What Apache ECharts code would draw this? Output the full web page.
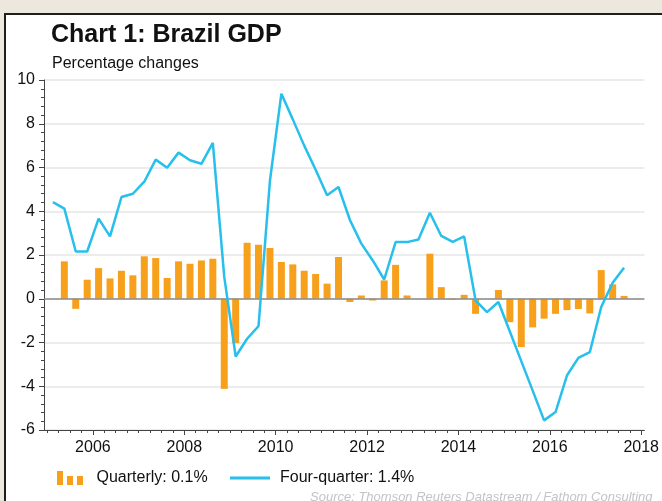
<!DOCTYPE html>
<html>
<head>
<meta charset="utf-8">
<script src="https://cdn.jsdelivr.net/npm/echarts@6/dist/echarts.min.js"></script>
<style>
  html, body { margin: 0; padding: 0; background: #ece8dd; }
  #chart { width: 662px; height: 501px; }
</style>
</head>
<body>
<div id="chart"></div>
<script>
  // quarterly data, 2005Q1 .. 2017Q3
  var startYear = 2005;
  var quarterly = [
    null, 1.71, -0.46, 0.87, 1.40, 0.93, 1.28, 1.07,
    1.94, 1.86, 0.95, 1.71, 1.60, 1.75, 1.83, -4.12,
    -2.03, 2.56, 2.47, 2.32, 1.68, 1.57, 1.28, 1.13,
    0.69, 1.91, -0.15, 0.15, -0.08, 0.84, 1.55, 0.15,
    0.0, 2.06, 0.53, -0.05, 0.18, -0.69, 0.0, 0.40,
    -1.07, -2.21, -1.31, -0.91, -0.69, -0.52, -0.47, -0.67,
    1.31, 0.66, 0.13
  ];
  var fourQuarter = [
    4.42, 4.12, 2.16, 2.16, 3.66, 2.85, 4.65, 4.80,
    5.35, 6.36, 5.99, 6.68, 6.33, 6.17, 7.13, 1.00,
    -2.64, -1.83, -1.25, 5.40, 9.37, 8.20, 7.00, 5.90,
    4.73, 5.11, 3.60, 2.52, 1.75, 0.88, 2.59, 2.59,
    2.71, 3.93, 2.87, 2.60, 2.85, -0.08, -0.61, -0.15,
    -1.50, -2.85, -4.20, -5.56, -5.18, -3.51, -2.70, -2.44,
    -0.38, 0.73, 1.42
  ];
  var yearLabels = [2006, 2008, 2010, 2012, 2014, 2016, 2018];
  var yTicks = [-6, -4, -2, 0, 2, 4, 6, 8, 10];

  // each quarter sits in the middle of its quarter
  function qx(i) { return startYear + (i + 0.5) / 4; }
  var quarterTicks = [];
  for (var t = startYear; t <= 2018; t += 0.25) quarterTicks.push(t);

  var font = "'Liberation Sans', Arial, sans-serif";
  var chart = echarts.init(document.getElementById('chart'));
  chart.setOption({
    backgroundColor: '#ece8dd',
    animation: false,
    graphic: [
      {
        type: 'rect', z: -10, silent: true,
        shape: { x: 5, y: 14, width: 700, height: 520 },
        style: { fill: '#ffffff', stroke: '#1e1e1e', lineWidth: 2 }
      },
      {
        type: 'text', left: 310, top: 491, silent: true,
        style: {
          text: 'Source: Thomson Reuters Datastream / Fathom Consulting',
          fill: '#c4c4c4', font: 'italic 13px ' + font
        }
      }
    ],
    title: [
      {
        text: 'Chart 1: Brazil GDP', left: 46, top: 18,
        textStyle: { fontFamily: font, fontSize: 25, fontWeight: 'bold', color: '#111' }
      },
      {
        text: 'Percentage changes', left: 47, top: 51,
        textStyle: { fontFamily: font, fontSize: 16, fontWeight: 'normal', color: '#111' }
      }
    ],
    legend: [
      {
        left: 52, top: 465, itemWidth: 27, itemHeight: 14,
        data: [{ name: 'Quarterly: 0.1%', icon: 'path://M0,0H6V14H0Z M10,5H16V14H10Z M20,5H26V14H20Z' }],
        textStyle: { fontFamily: font, fontSize: 16, color: '#111', padding: [0, 0, 0, 8] }
      },
      {
        left: 225, top: 465, itemWidth: 40, itemHeight: 3,
        data: [{ name: 'Four-quarter: 1.4%', icon: 'rect' }],
        textStyle: { fontFamily: font, fontSize: 16, color: '#111', padding: [0, 0, 0, 5] }
      }
    ],
    grid: { left: 44, top: 80, width: 602, height: 350 },
    xAxis: [
      {
        type: 'value', min: 2004.93, max: 2018.07,
        axisLine: { show: true, onZero: false, lineStyle: { color: '#444', width: 1 } },
        axisTick: { show: true, customValues: yearLabels, length: 5, lineStyle: { color: '#444' } },
        axisLabel: {
          customValues: yearLabels, margin: 10,
          fontFamily: font, fontSize: 16, color: '#111',
          formatter: function (v) { return String(v); }
        },
        splitLine: { show: false }
      },
      {
        type: 'value', min: 2004.93, max: 2018.07, position: 'bottom',
        axisLine: { show: false, onZero: false },
        axisTick: { show: true, customValues: quarterTicks, length: 3, lineStyle: { color: '#444' } },
        axisLabel: { show: false },
        splitLine: { show: false }
      }
    ],
    yAxis: {
      type: 'value', min: -6, max: 10, interval: 2,
      axisLine: { show: true, lineStyle: { color: '#444', width: 1 } },
      axisTick: { show: true, length: 5, lineStyle: { color: '#444' } },
      minorTick: { show: true, splitNumber: 5, length: 3, lineStyle: { color: '#444' } },
      axisLabel: {
        margin: 9, fontFamily: font, fontSize: 16, color: '#111',
        formatter: function (v) { return yTicks.indexOf(v) >= 0 ? String(v) : ''; }
      },
      splitLine: { show: true, lineStyle: { color: '#e6e6e6', width: 1.5 } }
    },
    series: [
      {
        name: 'Quarterly: 0.1%',
        type: 'bar',
        barWidth: 7,
        data: quarterly.map(function (v, i) { return [qx(i), v]; }),
        itemStyle: { color: '#f7a01b' },
        markLine: {
          silent: true, symbol: ['none', 'none'],
          label: { show: false },
          lineStyle: { color: '#8c8c8c', width: 1.5, type: 'solid' },
          data: [{ yAxis: 0 }]
        }
      },
      {
        name: 'Four-quarter: 1.4%',
        type: 'line',
        showSymbol: false, symbol: 'none',
        data: fourQuarter.map(function (v, i) { return [qx(i), v]; }),
        itemStyle: { color: '#27bfeb' },
        lineStyle: { color: '#27bfeb', width: 2.5 },
        z: 5
      }
    ]
  });
</script>
</body>
</html>
